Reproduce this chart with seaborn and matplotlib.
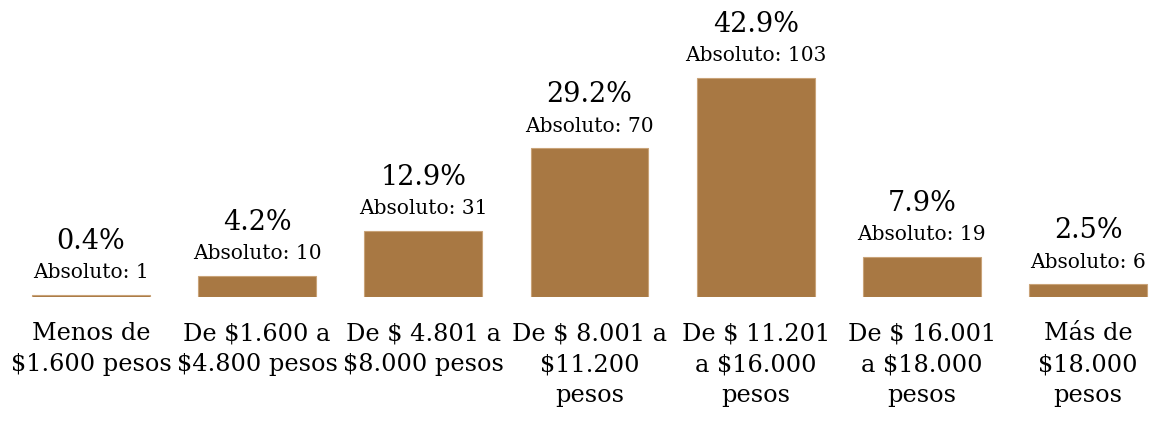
import numpy as np
import pandas as pd
import matplotlib
matplotlib.use("Agg")
import matplotlib.pyplot as plt
import seaborn as sns

sns.set_style("white")
plt.rcParams['font.family'] = ['DejaVu Serif']
plt.rcParams['text.color'] = 'black'
plt.rcParams['xtick.color'] = 'black'

# data
categorias = ["Menos de\n\\$1.600 pesos",
              "De \\$1.600 a\n\\$4.800 pesos",
              "De \\$ 4.801 a\n\\$8.000 pesos",
              "De \\$ 8.001 a\n\\$11.200\npesos",
              "De \\$ 11.201\na \\$16.000\npesos",
              "De \\$ 16.001\na \\$18.000\npesos",
              "Más de\n\\$18.000\npesos"]
absolutos = [1, 10, 31, 70, 103, 19, 6]
porcentajes = ["0.4%", "4.2%", "12.9%", "29.2%", "42.9%", "7.9%", "2.5%"]

df = pd.DataFrame({"cat": categorias, "n": absolutos})

fig = plt.figure(figsize=(11.51, 4.21), dpi=100)
ax = fig.add_axes([0, 124/421, 1, 255/421])
sns.barplot(data=df, x="cat", y="n", color="#A87843", saturation=1,
            width=0.71, edgecolor="#C9A378", linewidth=0.8, ax=ax)

ax.set_xlim(-0.5476, 6.379)
ax.set_ylim(0, 120)
for i, (v, p) in enumerate(zip(absolutos, porcentajes)):
    ax.annotate("Absoluto: " + str(v), (i, v), xytext=(0, 12), textcoords="offset points",
                ha="center", va="baseline", fontsize=14.5, annotation_clip=False)
    ax.annotate(p, (i, v), xytext=(0, 33), textcoords="offset points",
                ha="center", va="baseline", fontsize=19.5, annotation_clip=False)

ax.set_xlabel("")
ax.set_ylabel("")
ax.set_yticks([])
ax.tick_params(axis="x", length=0, pad=18, labelsize=17.3)
for t in ax.get_xticklabels():
    t.set_linespacing(1.45)
for s in ax.spines.values():
    s.set_visible(False)

fig.savefig("out.png", dpi=100)
